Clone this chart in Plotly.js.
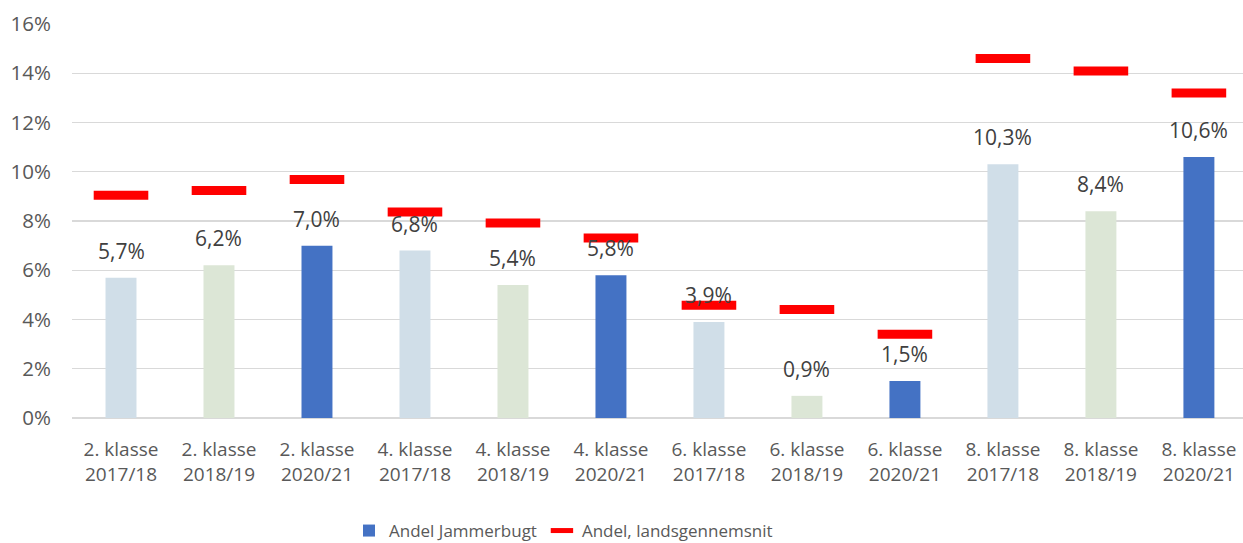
<!DOCTYPE html>
<html>
<head>
<meta charset="utf-8">
<script src="https://cdn.plot.ly/plotly-3.0.1.min.js"></script>
<style>html,body{margin:0;padding:0;background:#fff;overflow:hidden}#chart{width:1243px;height:543px}</style>
</head>
<body>
<div id="chart"></div>
<script>
const categories = [
  "2. klasse<br>2017/18", "2. klasse<br>2018/19", "2. klasse<br>2020/21",
  "4. klasse<br>2017/18", "4. klasse<br>2018/19", "4. klasse<br>2020/21",
  "6. klasse<br>2017/18", "6. klasse<br>2018/19", "6. klasse<br>2020/21",
  "8. klasse<br>2017/18", "8. klasse<br>2018/19", "8. klasse<br>2020/21"
];
const jammerbugt = [5.7, 6.2, 7.0, 6.8, 5.4, 5.8, 3.9, 0.9, 1.5, 10.3, 8.4, 10.6];
const landsgennemsnit = [9.05, 9.24, 9.69, 8.37, 7.92, 7.31, 4.58, 4.41, 3.40, 14.6, 14.09, 13.2];
const barColors = ["#D0DEE8", "#DCE6D6", "#4472C4", "#D0DEE8", "#DCE6D6", "#4472C4",
                   "#D0DEE8", "#DCE6D6", "#4472C4", "#D0DEE8", "#DCE6D6", "#4472C4"];
const seriesNames = ["Andel Jammerbugt", "Andel, landsgennemsnit"];

const FONT = "Open Sans, Lato, sans-serif";
const fmt = v => v.toFixed(1).replace('.', ',') + '%';

const traces = [
  {
    type: 'bar', x: categories, y: jammerbugt, showlegend: false,
    marker: {color: barColors}, hoverinfo: 'x+y'
  },
  {
    type: 'bar', x: [categories[0]], y: [null], name: seriesNames[0],
    marker: {color: '#4472C4'}, showlegend: true
  },
  {
    type: 'scatter', mode: 'markers', x: categories, y: landsgennemsnit,
    name: seriesNames[1],
    marker: {symbol: 'line-ew', size: 39, color: '#FF0000', line: {color: '#FF0000', width: 9}}
  }
];

const annotations = jammerbugt.map((v, i) => ({
  x: categories[i], y: v, xref: 'x', yref: 'y', text: fmt(v),
  showarrow: false, yanchor: 'bottom', yshift: 11,
  font: {family: FONT, size: 21, color: '#404040'}
}));

const layout = {
  width: 1243, height: 543,
  margin: {l: 72, r: 0, t: 24, b: 125},
  paper_bgcolor: '#fff', plot_bgcolor: '#fff',
  barmode: 'overlay',
  bargap: 0.684,
  font: {family: FONT, size: 19, color: '#595959'},
  xaxis: {
    type: 'category', range: [-0.5, 11.45], showgrid: false, showline: false,
    ticks: '', ticklabelstandoff: 18,
    tickfont: {family: FONT, size: 19, color: '#595959'}, automargin: false
  },
  yaxis: {
    range: [0, 16], dtick: 2, ticksuffix: '%', showgrid: true, gridcolor: '#D9D9D9', gridwidth: 1.3,
    zeroline: true, zerolinecolor: '#D9D9D9', zerolinewidth: 1.3, showline: false, ticks: '',
    ticklabelstandoff: 20,
    tickfont: {family: FONT, size: 20.5, color: '#595959'}, automargin: false
  },
  legend: {
    orientation: 'h', xref: 'container', yref: 'container',
    x: 349 / 1243, xanchor: 'left', y: (543 - 531) / 543, yanchor: 'middle',
    font: {family: FONT, size: 17, color: '#595959'}, itemwidth: 30, tracegroupgap: 0
  },
  annotations: annotations
};

Plotly.newPlot('chart', traces, layout, {displayModeBar: false, staticPlot: true});
</script>
</body>
</html>
